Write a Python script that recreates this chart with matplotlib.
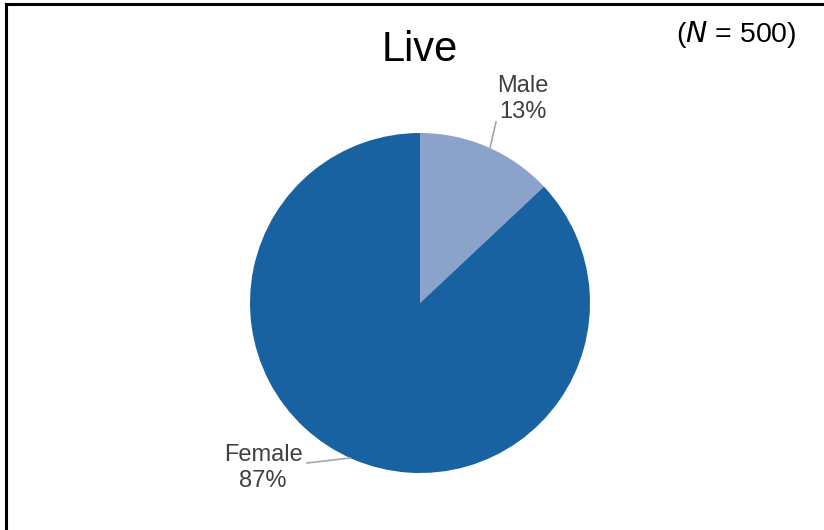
import matplotlib.pyplot as plt
from matplotlib.lines import Line2D

labels = ['Male', 'Female']
shares = [13, 87]
colors = ['#8BA2CB', '#1862A2']
title = 'Live'

plt.rcParams['font.family'] = ['Liberation Sans', 'DejaVu Sans']

fig = plt.figure(figsize=(8.24, 5.30), dpi=100)
W, H = 824, 530

# pie centre (420, 303) px, radius 170 px
cx, cy, r = 420, 303, 170
ax = fig.add_axes([(cx - r) / W, (H - cy - r) / H, 2 * r / W, 2 * r / H])
ax.pie(shares, colors=colors, startangle=90, counterclock=False,
       wedgeprops=dict(linewidth=0))
ax.set_xlim(-1, 1)
ax.set_ylim(-1, 1)
ax.set_aspect('equal')
ax.axis('off')

def px(x, y):
    return ((x - cx) / r, (cy - y) / r)

# labels with leader lines
lbl_pos = [(523, 99), (263, 468)]
line_pts = [[(490, 148), (496, 122)], [(350, 458), (307, 463)]]
for lab, val, (lx, ly), pts in zip(labels, shares, lbl_pos, line_pts):
    (x0, y0), (x1, y1) = px(*pts[0]), px(*pts[1])
    ax.plot([x0, x1], [y0, y1], color='#A6A6A6', lw=1.2, clip_on=False)
    tx, ty = px(lx, ly)
    ax.text(tx, ty, f'{lab}\n{val}%', ha='center', va='center',
            fontsize=17, color='#404040', linespacing=1.25)

fig.text(420 / W, 1 - 50 / H, title, ha='center', va='center', fontsize=30)
fig.text(736 / W, 1 - 34 / H, '($N$ = 500)', ha='center', va='center',
         fontsize=20.5)

# top and left border
fig.add_artist(Line2D([6 / W, 6 / W], [0, 1 - 4 / H], color='black', lw=2.2))
fig.add_artist(Line2D([6 / W, 1], [1 - 4 / H, 1 - 4 / H], color='black', lw=2.2))

fig.savefig('out.png', dpi=100)
